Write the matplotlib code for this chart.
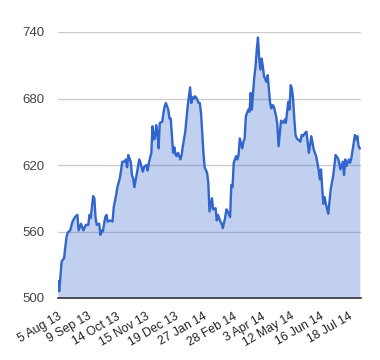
import matplotlib
matplotlib.use('Agg')
import matplotlib.pyplot as plt

plt.rcParams['font.family'] = ['Liberation Sans', 'DejaVu Sans']

# trading-day index and closing price
day = [0, 1, 3, 5, 7, 8, 10, 12, 14, 16, 17, 19, 21, 23, 25, 26, 27, 29, 30, 31,
       32, 34, 35, 36, 37, 39, 40, 41, 43, 45, 46, 48, 49, 51, 52, 53, 55, 56, 57, 58,
       60, 61, 62, 63, 65, 67, 68, 70, 71, 73, 74, 75, 77, 78, 79, 80, 81, 82, 83, 84,
       86, 87, 88, 89, 91, 92, 93, 94, 95, 96, 97, 98, 99, 101, 102, 103, 105, 106, 107, 109,
       110, 111, 112, 113, 114, 116, 117, 118, 119, 120, 121, 123, 124, 125, 127, 128, 130, 131, 132, 134,
       135, 136, 138, 139, 140, 142, 143, 144, 145, 147, 148, 149, 150, 152, 153, 154, 155, 157, 158, 159,
       160, 161, 162, 163, 164, 165, 166, 167, 168, 169, 170, 172, 173, 174, 175, 176, 177, 178, 180, 181,
       182, 184, 185, 186, 187, 188, 190, 191, 192, 193, 194, 195, 196, 197, 198, 200, 201, 202, 204, 205,
       207, 208, 209, 211, 212, 213, 215, 216, 217, 218, 219, 220, 221, 223, 224, 225, 227, 228, 229, 231,
       232, 233, 235, 236, 237, 238, 240, 241, 242, 244, 245, 246, 247, 248, 249]
price = [515, 506, 533, 536, 555, 559, 561, 569, 573, 575, 561, 567, 561, 566, 566, 575, 572, 592, 590, 572,
         566, 567, 557, 561, 560, 573, 575, 569, 570, 569, 582, 593, 600, 608, 615, 623, 623, 625, 618, 629,
         623, 611, 608, 600, 612, 625, 622, 614, 618, 620, 615, 622, 631, 655, 643, 644, 656, 650, 635, 658,
         659, 667, 673, 676, 670, 662, 662, 646, 631, 636, 629, 628, 631, 625, 629, 637, 650, 661, 673, 690,
         676, 681, 680, 682, 681, 676, 676, 667, 649, 631, 618, 613, 604, 578, 590, 580, 581, 570, 575, 569,
         567, 563, 573, 580, 578, 573, 602, 600, 622, 628, 625, 629, 644, 635, 641, 644, 664, 670, 668, 685,
         670, 686, 700, 709, 724, 735, 716, 706, 716, 709, 700, 695, 701, 689, 676, 671, 674, 673, 664, 656,
         637, 660, 659, 658, 661, 658, 677, 670, 692, 689, 679, 661, 647, 644, 643, 641, 647, 646, 649, 650,
         631, 638, 646, 634, 631, 628, 616, 607, 616, 599, 585, 591, 585, 576, 587, 598, 610, 619, 629, 626,
         622, 616, 623, 611, 625, 619, 625, 622, 626, 640, 647, 643, 646, 637, 635]

tick_days = [0, 24, 48, 72, 96, 120, 144, 168, 192, 216, 240]
tick_labels = ['5 Aug 13', '9 Sep 13', '14 Oct 13', '15 Nov 13', '19 Dec 13', '27 Jan 14',
               '28 Feb 14', '3 Apr 14', '12 May 14', '16 Jun 14', '18 Jul 14']
y_ticks = [500, 560, 620, 680, 740]

fig = plt.figure(figsize=(3.8, 3.6), dpi=100)
ax = fig.add_axes([58 / 380, 62 / 360, 303 / 380, 266 / 360])

ax.fill_between(day, price, 500, color='#3366cc', alpha=0.3, linewidth=0)
ax.plot(day, price, color='#3366cc', linewidth=1.7)

ax.set_xlim(0, 250)
ax.set_ylim(500, 740)
ax.set_yticks(y_ticks)
ax.set_xticks(tick_days)
ax.set_xticklabels(tick_labels, rotation=30, ha='right', rotation_mode='anchor')

ax.grid(axis='y', color='#cccccc', linewidth=1)
ax.set_axisbelow(True)
for s in ['left', 'right', 'top']:
    ax.spines[s].set_visible(False)
ax.spines['bottom'].set_color('#333333')
ax.spines['bottom'].set_linewidth(1.2)
ax.spines['bottom'].set_zorder(5)

ax.tick_params(axis='y', length=0, pad=9.5, labelsize=9.5, labelcolor='#444444')
ax.tick_params(axis='x', length=0, pad=9, labelsize=8.8, labelcolor='#222222')

fig.savefig('out.png', dpi=100)
